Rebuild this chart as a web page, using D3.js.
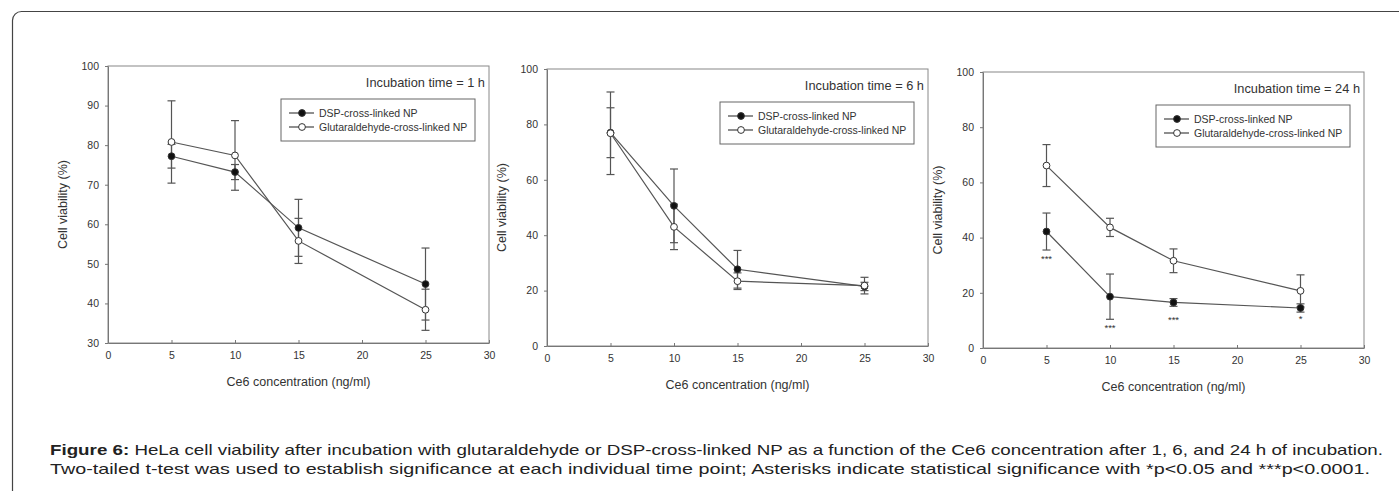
<!DOCTYPE html>
<html lang="en">
<head>
    <meta charset="UTF-8">
    <title>HeLa cell viability</title>
    <script src="https://d3js.org/d3.v7.min.js"></script>
    <style>
        body, html { margin: 0; background: #fff; }
        svg { display: block; }
        text { font-family: "Liberation Sans", Arial, sans-serif; fill: #333; }
        .axis path, .axis line { stroke: #777; }
        .axis text { font-size: 10.5px; fill: #333; }
    </style>
</head>
<body>
<script>
    // Ce6 concentrations (ng/ml) and axis ticks
    const concentrations = [5, 10, 15, 25];
    const xTicks = [0, 5, 10, 15, 20, 25, 30];
    const timeLabels = ["Incubation time = 1 h", "Incubation time = 6 h", "Incubation time = 24 h"];
    const seriesNames = ["DSP-cross-linked NP", "Glutaraldehyde-cross-linked NP"];

    // 1 h
    const dsp1h = [77.2, 73.2, 59.1, 44.9];
    const dsp1hErr = [3.0, 1.9, 7.2, 9.1];
    const glu1h = [80.8, 77.4, 55.8, 38.4];
    const glu1hErr = [10.4, 8.8, 5.7, 5.2];
    // 6 h
    const dsp6h = [77.0, 50.6, 27.7, 21.5];
    const dsp6hErr = [9.0, 13.3, 6.8, 1.5];
    const glu6h = [76.8, 43.0, 23.4, 21.8];
    const glu6hErr = [14.9, 8.2, 3.0, 3.0];
    // 24 h
    const dsp24h = [42.2, 18.6, 16.5, 14.5];
    const dsp24hErr = [6.7, 8.2, 1.4, 1.5];
    const glu24h = [66.1, 43.7, 31.6, 20.7];
    const glu24hErr = [7.6, 3.3, 4.3, 5.8];
    const sig24h = ["***", "***", "***", "*"];
    const sig24hY = [32.9, 8.0, 10.9, 11.4];

    const yTicks1h = [30, 40, 50, 60, 70, 80, 90, 100];
    const yTicks = [0, 20, 40, 60, 80, 100];

    const W = 1399, H = 491;
    const svg = d3.select("body").append("svg")
        .attr("width", W).attr("height", H);

    // outer frame (runs off the right and bottom edges)
    svg.append("rect")
        .attr("x", 12.5).attr("y", 11.5)
        .attr("width", 1420).attr("height", 520)
        .attr("rx", 9)
        .attr("fill", "none")
        .attr("stroke", "#444")
        .attr("stroke-width", 1.2);

    const panels = [
        {left: 108, top: 66, bottom: 343, yDomain: [30, 100], yTicks: yTicks1h, title: timeLabels[0],
         dsp: dsp1h, dspErr: dsp1hErr, glu: glu1h, gluErr: glu1hErr},
        {left: 547, top: 69, bottom: 346, yDomain: [0, 100], yTicks: yTicks, title: timeLabels[1],
         dsp: dsp6h, dspErr: dsp6hErr, glu: glu6h, gluErr: glu6hErr},
        {left: 983, top: 72, bottom: 348, yDomain: [0, 100], yTicks: yTicks, title: timeLabels[2],
         dsp: dsp24h, dspErr: dsp24hErr, glu: glu24h, gluErr: glu24hErr, sig: sig24h, sigY: sig24hY}
    ];
    const plotW = 381;

    panels.forEach(p => {
        const g = svg.append("g");
        const x = d3.scaleLinear().domain([0, 30]).range([p.left, p.left + plotW]);
        const y = d3.scaleLinear().domain(p.yDomain).range([p.bottom, p.top]);

        // frame of the plot area
        g.append("rect")
            .attr("x", p.left).attr("y", p.top)
            .attr("width", plotW).attr("height", p.bottom - p.top)
            .attr("fill", "none").attr("stroke", "#888").attr("stroke-width", 1);

        g.append("g").attr("class", "axis")
            .attr("transform", `translate(0,${p.bottom})`)
            .call(d3.axisBottom(x).tickValues(xTicks).tickSize(-3).tickPadding(9).tickSizeOuter(0))
            .call(a => a.select(".domain").attr("stroke", "#777"));

        g.append("g").attr("class", "axis")
            .attr("transform", `translate(${p.left},0)`)
            .call(d3.axisLeft(y).tickValues(p.yTicks).tickSize(3).tickPadding(6).tickSizeOuter(0));

        // axis titles
        g.append("text")
            .attr("x", p.left + plotW / 2).attr("y", p.bottom + 43)
            .attr("text-anchor", "middle").style("font-size", "12.5px")
            .text("Ce6 concentration (ng/ml)");
        g.append("text")
            .attr("transform", `translate(${p.left - 41},${(p.top + p.bottom) / 2}) rotate(-90)`)
            .attr("text-anchor", "middle").style("font-size", "12.5px")
            .text("Cell viability (%)");

        // incubation time label
        g.append("text")
            .attr("x", p.left + plotW - 4).attr("y", p.top + 21)
            .attr("text-anchor", "end").style("font-size", "12.8px")
            .text(p.title);

        const series = [
            {v: p.dsp, e: p.dspErr, fill: "#111"},
            {v: p.glu, e: p.gluErr, fill: "#fff"}
        ];
        const line = d3.line().x((d, i) => x(concentrations[i])).y(d => y(d));

        series.forEach(s => {
            g.append("path")
                .datum(s.v)
                .attr("d", line)
                .attr("fill", "none").attr("stroke", "#555").attr("stroke-width", 1.2);
        });

        // error bars
        series.forEach(s => {
            const eb = g.append("g").attr("stroke", "#555").attr("stroke-width", 1.2);
            s.v.forEach((v, i) => {
                const cx = x(concentrations[i]);
                eb.append("line").attr("x1", cx).attr("x2", cx)
                    .attr("y1", y(v - s.e[i])).attr("y2", y(v + s.e[i]));
                [v - s.e[i], v + s.e[i]].forEach(c => {
                    eb.append("line").attr("x1", cx - 4).attr("x2", cx + 4)
                        .attr("y1", y(c)).attr("y2", y(c));
                });
            });
        });

        series.forEach(s => {
            g.append("g").selectAll("circle")
                .data(s.v)
                .join("circle")
                .attr("cx", (d, i) => x(concentrations[i]))
                .attr("cy", d => y(d))
                .attr("r", 3.4)
                .attr("fill", s.fill)
                .attr("stroke", "#333").attr("stroke-width", 1);
        });

        if (p.sig) {
            g.append("g").selectAll("text")
                .data(p.sig)
                .join("text")
                .attr("x", (d, i) => x(concentrations[i]))
                .attr("y", (d, i) => y(p.sigY[i]) + 5)
                .attr("text-anchor", "middle")
                .style("font-size", "9.5px").style("fill", "#333")
                .text(d => d);
        }

        // legend
        const lx = p.left + 173, ly = p.top + 33;
        const lg = g.append("g").attr("transform", `translate(${lx},${ly})`);
        lg.append("rect")
            .attr("width", 194).attr("height", 42)
            .attr("fill", "#fff").attr("stroke", "#666").attr("stroke-width", 1);
        seriesNames.forEach((name, i) => {
            const row = lg.append("g").attr("transform", `translate(0,${14 + i * 14})`);
            row.append("line").attr("x1", 8).attr("x2", 33)
                .attr("stroke", "#444").attr("stroke-width", 1.2);
            row.append("circle").attr("cx", 21).attr("r", 3.4)
                .attr("fill", series[i].fill).attr("stroke", "#333");
            row.append("text").attr("x", 38).attr("dy", "0.35em")
                .style("font-size", "10.5px").text(name);
        });
    });

    // figure caption
    const cap1 = svg.append("text").attr("x", 50).attr("y", 455)
        .attr("textLength", 1333).attr("lengthAdjust", "spacingAndGlyphs")
        .style("font-size", "14.5px").style("fill", "#222");
    cap1.append("tspan").style("font-weight", "bold").text("Figure 6:");
    cap1.append("tspan").text(" HeLa cell viability after incubation with glutaraldehyde or DSP-cross-linked NP as a function of the Ce6 concentration after 1, 6, and 24 h of incubation.");
    svg.append("text").attr("x", 50).attr("y", 474)
        .attr("textLength", 1320).attr("lengthAdjust", "spacingAndGlyphs")
        .style("font-size", "14.5px").style("fill", "#222")
        .text("Two-tailed t-test was used to establish significance at each individual time point; Asterisks indicate statistical significance with *p<0.05 and ***p<0.0001.");
</script>
</body>
</html>
